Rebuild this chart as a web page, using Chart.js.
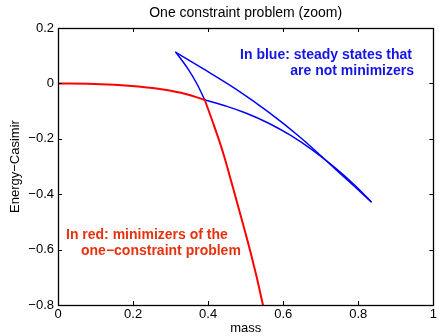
<!DOCTYPE html>
<html>
<head>
<meta charset="utf-8">
<script src="https://cdn.jsdelivr.net/npm/chart.js@4"></script>
<style>
  html, body { margin: 0; padding: 0; background: #fff; }
  #wrap { width: 439px; height: 336px; }
</style>
</head>
<body>
<div id="wrap"><canvas id="chart" width="439" height="336"></canvas></div>
<script>
// minimizers (red): flat branch up to the junction, then the steep branch
const flatMass    = [0, 0.08, 0.15, 0.22, 0.28, 0.34, 0.391];
const flatEnergy  = [0, -0.001, -0.005, -0.012, -0.022, -0.038, -0.060];
const dropMass    = [0.391, 0.415, 0.442, 0.464, 0.486, 0.508, 0.528, 0.546];
const dropEnergy  = [-0.060, -0.150, -0.260, -0.366, -0.474, -0.584, -0.692, -0.800];

// steady states that are not minimizers (blue)
const steepMass   = [0.314, 0.345, 0.371, 0.391];
const steepEnergy = [0.112, 0.055, -0.004, -0.060];
const upperMass   = [0.314, 0.384, 0.473, 0.561, 0.649, 0.737, 0.790, 0.834];
const upperEnergy = [0.112, 0.055, -0.020, -0.104, -0.199, -0.307, -0.372, -0.427];
const lowerMass   = [0.391, 0.45, 0.50, 0.56, 0.62, 0.68, 0.74, 0.79, 0.834];
const lowerEnergy = [-0.060, -0.083, -0.107, -0.143, -0.188, -0.243, -0.307, -0.367, -0.427];

const xTicks = [0, 0.2, 0.4, 0.6, 0.8, 1];
const yTicks = [-0.8, -0.6, -0.4, -0.2, 0, 0.2];

const FONT = "'Liberation Sans', Arial, Helvetica, sans-serif";

function pts(xs, ys) {
  return xs.map((x, i) => ({ x: x, y: ys[i] }));
}

function fmt(v) {
  if (Math.abs(v) < 1e-9) return "0";
  return String(+v.toFixed(1)).replace("-", "\u2212");
}

// MATLAB-ish frame: box with inward ticks, title and text notes
const framePlugin = {
  id: "frame",
  afterDatasetsDraw(chart) {
    const { ctx, chartArea: a, scales } = chart;
    ctx.save();
    ctx.strokeStyle = "#000";
    ctx.lineWidth = 1;
    ctx.beginPath();
    xTicks.forEach(t => {
      const px = Math.round(scales.x.getPixelForValue(t)) + 0.5;
      ctx.moveTo(px, a.bottom); ctx.lineTo(px, a.bottom - 4);
      ctx.moveTo(px, a.top); ctx.lineTo(px, a.top + 4);
    });
    yTicks.forEach(t => {
      const py = Math.round(scales.y.getPixelForValue(t)) + 0.5;
      ctx.moveTo(a.left, py); ctx.lineTo(a.left + 4, py);
      ctx.moveTo(a.right, py); ctx.lineTo(a.right - 4, py);
    });
    ctx.stroke();
    ctx.lineWidth = 1.3;
    ctx.strokeRect(Math.round(a.left) + 0.5, Math.round(a.top) + 0.5,
                   Math.round(a.right - a.left), Math.round(a.bottom - a.top));

    ctx.fillStyle = "#000";
    ctx.font = "14px " + FONT;
    ctx.textAlign = "center";
    ctx.textBaseline = "middle";
    ctx.fillText("One constraint problem (zoom)", (a.left + a.right) / 2, 13);

    ctx.font = "bold 14px " + FONT;
    ctx.fillStyle = "#1414e6";
    ctx.textAlign = "right";
    ctx.fillText("In blue: steady states that", 412, 55);
    ctx.fillText("are not minimizers", 414, 71);

    ctx.fillStyle = "#e6320f";
    ctx.textAlign = "left";
    ctx.fillText("In red: minimizers of the", 66, 235);
    ctx.fillText("one\u2212constraint problem", 81, 251);
    ctx.restore();
  }
};

const red = { borderColor: "#ff0000", borderWidth: 2 };
const blue = { borderColor: "#0000ff", borderWidth: 1.5, cubicInterpolationMode: "monotone" };

new Chart(document.getElementById("chart"), {
  type: "scatter",
  data: {
    datasets: [
      { data: pts(flatMass, flatEnergy), ...red },
      { data: pts(dropMass, dropEnergy), ...red, cubicInterpolationMode: "monotone" },
      { data: pts(steepMass, steepEnergy), ...blue },
      { data: pts(upperMass, upperEnergy), ...blue },
      { data: pts(lowerMass, lowerEnergy), ...blue }
    ]
  },
  options: {
    responsive: false,
    animation: false,
    layout: { padding: { top: 28, right: 3, bottom: 0, left: 0 } },
    elements: {
      point: { radius: 0, hoverRadius: 0 },
      line: { tension: 0.4, fill: false, borderCapStyle: "round", borderJoinStyle: "round" }
    },
    datasets: { scatter: { showLine: true } },
    plugins: {
      legend: { display: false },
      tooltip: { enabled: false }
    },
    scales: {
      x: {
        type: "linear",
        min: 0, max: 1,
        afterFit: s => { s.height = 31; },
        afterBuildTicks: s => { s.ticks = xTicks.map(v => ({ value: v })); },
        grid: { display: false, drawTicks: false },
        border: { display: false },
        ticks: { color: "#000", padding: 2, font: { family: FONT, size: 13 }, callback: fmt, maxRotation: 0 },
        title: { display: true, text: "mass", color: "#000", font: { family: FONT, size: 13 }, padding: { top: 0, bottom: 0 } }
      },
      y: {
        type: "linear",
        min: -0.8, max: 0.2,
        afterFit: s => { s.width = 58; },
        afterBuildTicks: s => { s.ticks = yTicks.map(v => ({ value: v })); },
        grid: { display: false, drawTicks: false },
        border: { display: false },
        ticks: { color: "#000", padding: 4, font: { family: FONT, size: 13 }, callback: fmt },
        title: { display: true, text: "Energy\u2212Casimir", color: "#000", font: { family: FONT, size: 13 }, padding: { top: 8, bottom: 0 } }
      }
    }
  },
  plugins: [framePlugin]
});
</script>
</body>
</html>
